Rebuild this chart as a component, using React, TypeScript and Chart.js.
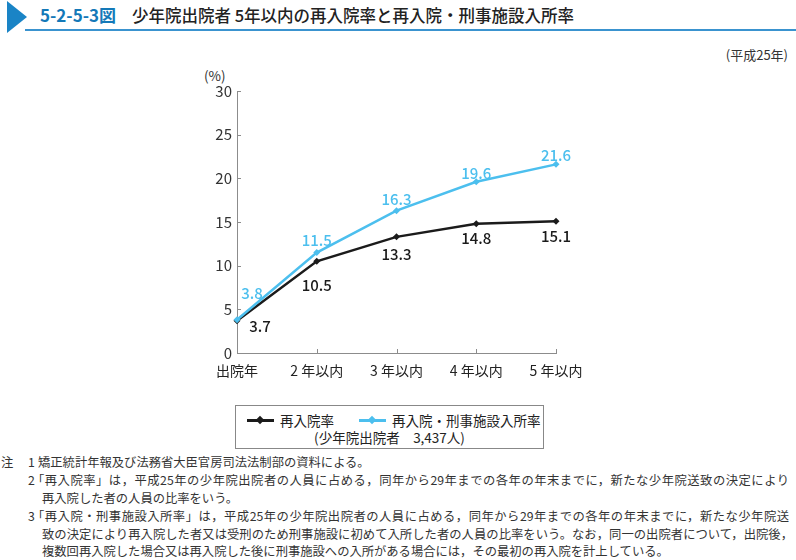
import React, { useEffect, useRef } from 'react';
import { Chart, registerables } from 'chart.js';

Chart.register(...registerables);

// ---- data ----
const categories = ['出院年', '2 年以内', '3 年以内', '4 年以内', '5 年以内'];
const reentryRate = [3.7, 10.5, 13.3, 14.8, 15.1];
const reentryOrPrisonRate = [3.8, 11.5, 16.3, 19.6, 21.6];
const yTickValues = [0, 5, 10, 15, 20, 25, 30];
const seriesNames = ['再入院率', '再入院・刑事施設入所率'];

// ---- label placement (style, not data) ----
const blackLabelOffsets = [[23, 6], [0, 24], [0, 17], [0, 15], [0, 15]];
const blueLabelOffsets = [[15, -27], [0, -12], [0, -11], [0, -9], [0, -9]];

const FONT = '"Noto Sans CJK JP", "Noto Sans", sans-serif';
const BLACK = '#1b1b1b';
const BLUE = '#4cbfee';
const AXIS = '#8c8c8c';

const overlayPlugin = {
  id: 'overlay',
  afterDraw(chart: any) {
    const { ctx, chartArea, scales } = chart;
    const x = scales.x;
    const y = scales.y;
    ctx.save();
    // inward tick marks
    ctx.strokeStyle = AXIS;
    ctx.lineWidth = 1;
    ctx.beginPath();
    yTickValues.forEach((v) => {
      if (v === 0) return;
      const py = Math.round(y.getPixelForValue(v)) + 0.5;
      ctx.moveTo(chartArea.left, py);
      ctx.lineTo(chartArea.left + 4, py);
    });
    categories.forEach((_, i) => {
      if (i === 0) return;
      const px = Math.round(x.getPixelForValue(i)) + 0.5;
      ctx.moveTo(px, chartArea.bottom);
      ctx.lineTo(px, chartArea.bottom - 4);
    });
    ctx.stroke();

    // data labels
    ctx.textAlign = 'center';
    ctx.textBaseline = 'middle';
    const drawLabels = (dsIndex: number, values: number[], offsets: number[][], color: string) => {
      const meta = chart.getDatasetMeta(dsIndex);
      ctx.fillStyle = color;
      ctx.font = `500 15px ${FONT}`;
      meta.data.forEach((pt: any, i: number) => {
        ctx.fillText(values[i].toFixed(1), pt.x + offsets[i][0], pt.y + offsets[i][1]);
      });
    };
    drawLabels(0, reentryRate, blackLabelOffsets, BLACK);
    drawLabels(1, reentryOrPrisonRate, blueLabelOffsets, BLUE);
    ctx.restore();
  },
};

function ChartCanvas() {
  const ref = useRef<HTMLCanvasElement | null>(null);
  useEffect(() => {
    if (!ref.current) return;
    const chart = new Chart(ref.current, {
      type: 'line',
      data: {
        labels: categories,
        datasets: [
          {
            label: seriesNames[0],
            data: reentryRate,
            borderColor: BLACK,
            backgroundColor: BLACK,
            borderWidth: 2.5,
            pointStyle: 'rectRot',
            pointRadius: 3.5,
            pointBorderWidth: 0,
            tension: 0,
            order: 1,
          },
          {
            label: seriesNames[1],
            data: reentryOrPrisonRate,
            borderColor: BLUE,
            backgroundColor: BLUE,
            borderWidth: 2.5,
            pointStyle: 'rectRot',
            pointRadius: 3.5,
            pointBorderWidth: 0,
            tension: 0,
            order: 0,
          },
        ],
      },
      options: {
        animation: false,
        responsive: false,
        maintainAspectRatio: false,
        devicePixelRatio: 1,
        layout: { padding: { left: 0, right: 44, top: 31, bottom: 0 } },
        plugins: {
          legend: { display: false },
          tooltip: { enabled: false },
        },
        scales: {
          x: {
            type: 'category',
            offset: false,
            grid: { display: false, drawTicks: false, tickLength: 0 },
            border: { display: true, color: AXIS, width: 1 },
            ticks: {
              font: { family: FONT, size: 14 },
              color: '#222',
              padding: 9,
              maxRotation: 0,
              autoSkip: false,
            },
            afterFit: (s: any) => {
              s.height = 37;
            },
          },
          y: {
            min: 0,
            max: 30,
            grid: { display: false, drawTicks: false, tickLength: 0 },
            border: { display: true, color: AXIS, width: 1 },
            ticks: {
              font: { family: FONT, size: 15 },
              color: '#333',
              padding: 5,
            },
            afterBuildTicks: (s: any) => {
              s.ticks = yTickValues.map((v) => ({ value: v }));
            },
            afterFit: (s: any) => {
              s.width = 57;
            },
          },
        },
      },
      plugins: [overlayPlugin],
    } as any);
    return () => chart.destroy();
  }, []);
  return (
    <canvas
      ref={ref}
      width={420}
      height={330}
      style={{ position: 'absolute', left: 180, top: 60, width: 420, height: 330 }}
    />
  );
}

const noteStyle: React.CSSProperties = {
  position: 'absolute',
  fontFamily: FONT,
  fontSize: 12.3,
  color: '#333',
  whiteSpace: 'nowrap',
  lineHeight: '18px',
};

function Note({ x, cy, right, children }: { x: number; cy: number; right?: number; children: React.ReactNode }) {
  const justified: React.CSSProperties = right
    ? { width: right - x, textAlign: 'justify', textAlignLast: 'justify' as any, whiteSpace: 'normal', overflow: 'hidden', height: 18 }
    : {};
  return <div style={{ ...noteStyle, left: x, top: cy - 9, ...justified }}>{children}</div>;
}

function LegendMarker({ color }: { color: string }) {
  return (
    <span style={{ position: 'relative', display: 'inline-block', width: 27, height: 10 }}>
      <span style={{ position: 'absolute', left: 0, top: 4, width: 27, height: 2.5, background: color }} />
      <span
        style={{
          position: 'absolute',
          left: 10,
          top: 2,
          width: 6,
          height: 6,
          background: color,
          transform: 'rotate(45deg)',
        }}
      />
    </span>
  );
}

export default function App() {
  return (
    <div
      style={{
        position: 'absolute',
        left: 0,
        top: 0,
        width: 796,
        height: 560,
        background: '#fff',
        overflow: 'hidden',
        fontFamily: FONT,
      }}
    >
      {/* title */}
      <div
        style={{
          position: 'absolute',
          left: 7,
          top: 1,
          width: 0,
          height: 0,
          borderTop: '16px solid transparent',
          borderBottom: '16px solid transparent',
          borderLeft: '20px solid #1a84c6',
        }}
      />
      <div style={{ position: 'absolute', left: 25, top: 29, width: 771, height: 1.5, background: '#3a93cf' }} />
      <div
        style={{
          position: 'absolute',
          left: 40,
          top: 3,
          fontSize: 17,
          fontWeight: 700,
          color: '#1479b8',
          whiteSpace: 'nowrap',
          lineHeight: '24px',
        }}
      >
        5-2-5-3図
      </div>
      <div
        style={{
          position: 'absolute',
          left: 132,
          top: 3,
          fontSize: 16.5,
          fontWeight: 500,
          color: '#222',
          whiteSpace: 'nowrap',
          lineHeight: '24px',
        }}
      >
        少年院出院者 5年以内の再入院率と再入院・刑事施設入所率
      </div>
      <div
        style={{
          position: 'absolute',
          right: 8,
          top: 45,
          fontSize: 13,
          color: '#333',
          whiteSpace: 'nowrap',
          lineHeight: '20px',
        }}
      >
        (平成25年)
      </div>

      {/* axis unit */}
      <div
        style={{
          position: 'absolute',
          left: 204,
          top: 65,
          fontSize: 13.5,
          color: '#333',
          whiteSpace: 'nowrap',
          lineHeight: '20px',
        }}
      >
        (%)
      </div>

      <ChartCanvas />

      {/* legend */}
      <div
        style={{
          position: 'absolute',
          left: 235,
          top: 405,
          width: 307,
          height: 42,
          border: '1px solid #888',
          background: '#fff',
          fontSize: 13.5,
          color: '#222',
        }}
      >
        <div style={{ position: 'absolute', left: 11, top: 5, display: 'flex', alignItems: 'center', whiteSpace: 'nowrap', lineHeight: '18px' }}>
          <LegendMarker color={BLACK} />
          <span style={{ marginLeft: 6 }}>{seriesNames[0]}</span>
          <span style={{ marginLeft: 25 }} />
          <LegendMarker color={BLUE} />
          <span style={{ marginLeft: 6 }}>{seriesNames[1]}</span>
        </div>
        <div style={{ position: 'absolute', left: 0, right: 0, top: 22, textAlign: 'center', whiteSpace: 'nowrap', lineHeight: '18px' }}>
          (少年院出院者　3,437人)
        </div>
      </div>

      {/* notes */}
      <Note x={1} cy={461.5}>注</Note>
      <Note x={28} cy={461.5}>1</Note>
      <Note x={38} cy={461.5}>矯正統計年報及び法務省大臣官房司法法制部の資料による。</Note>
      <Note x={28} cy={480}>2</Note>
      <Note x={32} cy={480} right={789}>「再入院率」は，平成25年の少年院出院者の人員に占める，同年から29年までの各年の年末までに，新たな少年院送致の決定により</Note>
      <Note x={42} cy={497.5}>再入院した者の人員の比率をいう。</Note>
      <Note x={28} cy={516}>3</Note>
      <Note x={32} cy={516} right={789}>「再入院・刑事施設入所率」は，平成25年の少年院出院者の人員に占める，同年から29年までの各年の年末までに，新たな少年院送</Note>
      <Note x={42} cy={533.5} right={793}>致の決定により再入院した者又は受刑のため刑事施設に初めて入所した者の人員の比率をいう。なお，同一の出院者について，出院後，</Note>
      <Note x={42} cy={551}>複数回再入院した場合又は再入院した後に刑事施設への入所がある場合には，その最初の再入院を計上している。</Note>
    </div>
  );
}
